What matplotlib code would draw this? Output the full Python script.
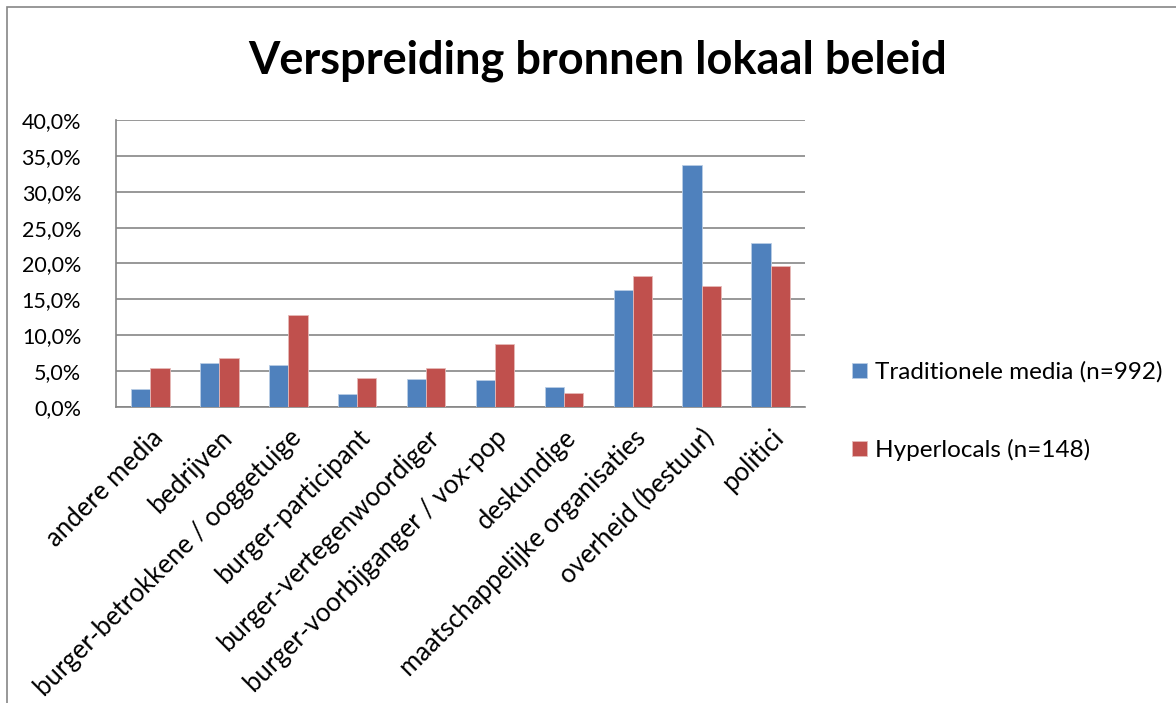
import numpy as np
import matplotlib.pyplot as plt
from matplotlib.patches import Rectangle
from matplotlib.ticker import FuncFormatter

plt.rcParams['font.family'] = ['Lato', 'DejaVu Sans']

categories = ['andere media', 'bedrijven', 'burger-betrokkene / ooggetuige',
              'burger-participant', 'burger-vertegenwoordiger',
              'burger-voorbijganger / vox-pop', 'deskundige',
              'maatschappelijke organisaties', 'overheid (bestuur)', 'politici']
traditionele = [2.5, 6.1, 5.9, 1.8, 3.9, 3.8, 2.8, 16.3, 33.7, 22.9]
hyperlocals = [5.4, 6.8, 12.8, 4.1, 5.4, 8.8, 2.0, 18.2, 16.9, 19.6]
series_labels = ['Traditionele media (n=992)', 'Hyperlocals (n=148)']

fig = plt.figure(figsize=(11.76, 7.03), dpi=100)
ax = fig.add_axes([0.0986, 0.4211, 0.586, 0.4082])

# rand rond de grafiek
fig.patches.append(Rectangle((7 / 1176, -0.01), 1.1, 1 - 7 / 703 + 0.01,
                             transform=fig.transFigure, fill=False,
                             edgecolor='#868686', linewidth=1.2))

x = np.arange(len(categories))
w = 0.28
ax.bar(x - w / 2, traditionele, w, color='#4F81BD', edgecolor='#B9CDE5',
       linewidth=0.6, label=series_labels[0], zorder=3)
ax.bar(x + w / 2, hyperlocals, w, color='#C0504D', edgecolor='#E6B9B8',
       linewidth=0.6, label=series_labels[1], zorder=3)

ax.set_xlim(-0.5, len(categories) - 0.5)
ax.set_ylim(0, 40)
ax.set_yticks(np.arange(0, 40.1, 5))
ax.yaxis.set_major_formatter(FuncFormatter(lambda v, p: f'{v:.1f}%'.replace('.', ',')))
ax.grid(axis='y', color='#868686', linewidth=1.2, zorder=0)
for s in ['top', 'right']:
    ax.spines[s].set_visible(False)
for s in ['left', 'bottom']:
    ax.spines[s].set_color('#868686')
    ax.spines[s].set_linewidth(1.2)
ax.tick_params(axis='y', length=0, labelsize=15.5, pad=25)
ax.tick_params(axis='x', length=0, pad=13)
ax.set_xticks(x)
ax.set_xticklabels(categories, rotation=45, ha='right', va='top',
                   rotation_mode='anchor', fontsize=18.5)

fig.text(0.508, 0.913, 'Verspreiding bronnen lokaal beleid', ha='center',
         va='center', fontsize=32.5, fontweight='bold')

fig.legend(loc='center left', bbox_to_anchor=(0.706, 0.415), frameon=False,
           fontsize=17.5, handlelength=0.6, handleheight=0.6, handletextpad=0.35,
           labelspacing=2.3)

fig.savefig('out.png', dpi=100)
